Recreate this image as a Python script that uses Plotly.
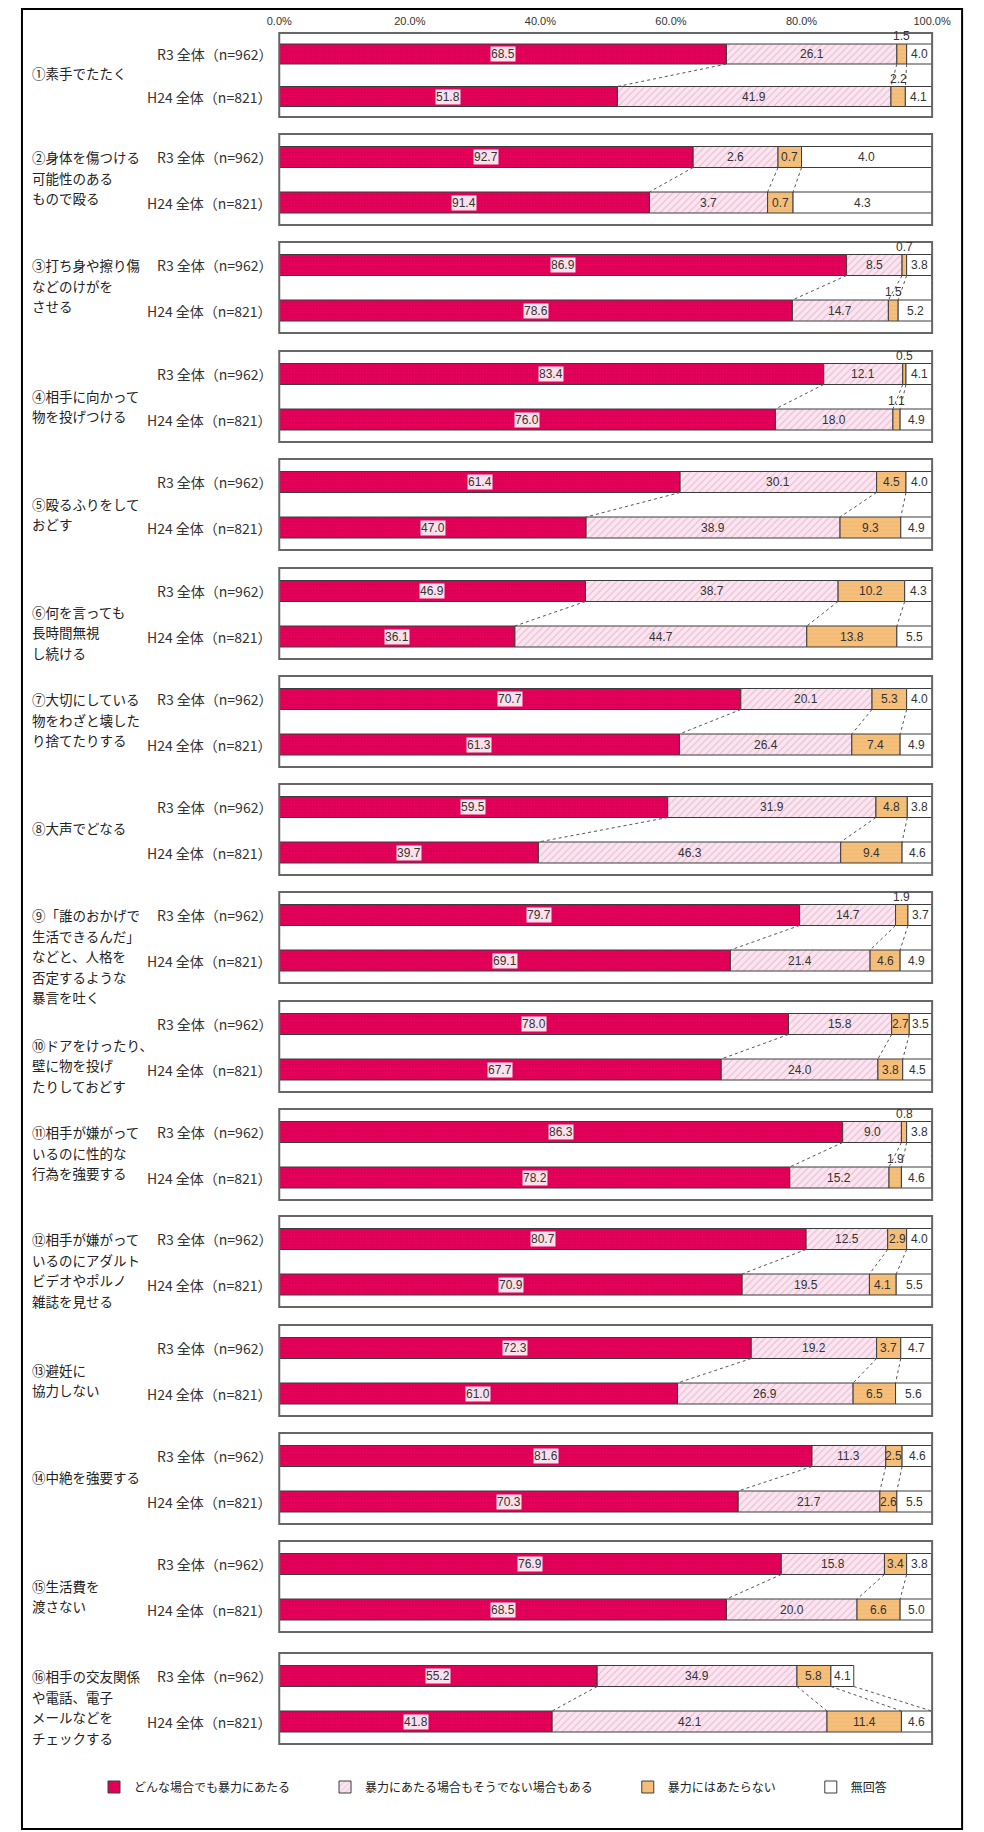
import plotly.graph_objects as go

PAGE_W, PAGE_H = 984, 1832
OFF = 8                      # the browser puts the figure 8px in from the page corner
W, H = PAGE_W - OFF, PAGE_H - OFF
TOP = 20                     # top margin of the plotting area (figure px)

JP = "Noto Sans CJK JP"
NUM = "Liberation Sans, Arial, sans-serif"

PINK = "#E5005A"
HATCH_BG = "#FBE4EF"
HATCH_FG = "#C58AAA"
TAN = "#F6C07C"
EDGE = "#3c3c3c"

# ---- data -------------------------------------------------------------
CATEGORIES = [
    "①素手でたたく",
    "②身体を傷つける\n可能性のある\nもので殴る",
    "③打ち身や擦り傷\nなどのけがを\nさせる",
    "④相手に向かって\n物を投げつける",
    "⑤殴るふりをして\nおどす",
    "⑥何を言っても\n長時間無視\nし続ける",
    "⑦大切にしている\n物をわざと壊した\nり捨てたりする",
    "⑧大声でどなる",
    "⑨「誰のおかげで\n生活できるんだ」\nなどと、人格を\n否定するような\n暴言を吐く",
    "⑩ドアをけったり、\n壁に物を投げ\nたりしておどす",
    "⑪相手が嫌がって\nいるのに性的な\n行為を強要する",
    "⑫相手が嫌がって\nいるのにアダルト\nビデオやポルノ\n雑誌を見せる",
    "⑬避妊に\n協力しない",
    "⑭中絶を強要する",
    "⑮生活費を\n渡さない",
    "⑯相手の交友関係\nや電話、電子\nメールなどを\nチェックする",
]
SERIES = ["R3 全体（n=962）", "H24 全体（n=821）"]
RESPONSES = ["どんな場合でも暴力にあたる", "暴力にあたる場合もそうでない場合もある",
             "暴力にはあたらない", "無回答"]

R3_ALWAYS = [68.5, 92.7, 86.9, 83.4, 61.4, 46.9, 70.7, 59.5, 79.7, 78.0, 86.3, 80.7, 72.3, 81.6, 76.9, 55.2]
R3_SOMETIMES = [26.1, 2.6, 8.5, 12.1, 30.1, 38.7, 20.1, 31.9, 14.7, 15.8, 9.0, 12.5, 19.2, 11.3, 15.8, 34.9]
R3_NOT = [1.5, 0.7, 0.7, 0.5, 4.5, 10.2, 5.3, 4.8, 1.9, 2.7, 0.8, 2.9, 3.7, 2.5, 3.4, 5.8]
R3_NA = [4.0, 4.0, 3.8, 4.1, 4.0, 4.3, 4.0, 3.8, 3.7, 3.5, 3.8, 4.0, 4.7, 4.6, 3.8, 4.1]

H24_ALWAYS = [51.8, 91.4, 78.6, 76.0, 47.0, 36.1, 61.3, 39.7, 69.1, 67.7, 78.2, 70.9, 61.0, 70.3, 68.5, 41.8]
H24_SOMETIMES = [41.9, 3.7, 14.7, 18.0, 38.9, 44.7, 26.4, 46.3, 21.4, 24.0, 15.2, 19.5, 26.9, 21.7, 20.0, 42.1]
H24_NOT = [2.2, 0.7, 1.5, 1.1, 9.3, 13.8, 7.4, 9.4, 4.6, 3.8, 1.9, 4.1, 6.5, 2.6, 6.6, 11.4]
H24_NA = [4.1, 4.3, 5.2, 4.9, 4.9, 5.5, 4.9, 4.6, 4.9, 4.5, 4.6, 5.5, 5.6, 5.5, 5.0, 4.6]

# bar lengths as drawn in the original where they differ from the printed labels
Q2_R3_DRAWN = [63.4, 13.0, 3.6, 20.0]
Q2_H24_DRAWN = [56.7, 18.1, 3.9, 21.3]
Q16_R3_DRAWN = [48.7, 30.6, 5.2, 3.5]

# ---- layout helpers (page pixel coordinates) --------------------------
GROUP_TOPS = [33, 134, 242, 351, 459, 568, 676, 784, 892, 1001, 1109, 1216, 1325, 1433, 1541, 1653]
LABEL_LINE_SHIFT = {5: 1, 9: 1}   # these labels start one line lower
LINE_H = 20.5
AXIS_X0, AXIS_X1 = 275, 950


def px_x(px):
    return (px - OFF) / W


def px_y(py):
    return (PAGE_H - py) / (H - TOP)


def row_center(g, s):
    top = GROUP_TOPS[g]
    if g == 0:
        return top + (21 if s == 0 else 63.5)
    return top + (23 if s == 0 else 68.5)


def frame_height(g):
    return 84 if g == 0 else 91


def thickness(g):
    return 20 if g == 0 else 21


r3 = list(zip(R3_ALWAYS, R3_SOMETIMES, R3_NOT, R3_NA))
h24 = list(zip(H24_ALWAYS, H24_SOMETIMES, H24_NOT, H24_NA))
drawn_override = {(1, 0): Q2_R3_DRAWN, (1, 1): Q2_H24_DRAWN, (15, 0): Q16_R3_DRAWN}

rows = []
for g in range(len(CATEGORIES)):
    for s, vals in enumerate([r3[g], h24[g]]):
        drawn = drawn_override.get((g, s), list(vals))
        cum = [0]
        for w in drawn:
            cum.append(cum[-1] + w)
        rows.append(dict(g=g, s=s, labels=vals, drawn=drawn, cum=cum,
                         y=row_center(g, s), t=thickness(g)))

fig = go.Figure()

markers = [
    dict(color=PINK, line=dict(color=EDGE, width=1),
         pattern=dict(shape=".", fgcolor="#B8003F", bgcolor=PINK, size=3, solidity=0.25)),
    dict(color=HATCH_BG, line=dict(color=EDGE, width=1),
         pattern=dict(shape="/", fgcolor=HATCH_FG, bgcolor=HATCH_BG, size=5, solidity=0.18)),
    dict(color=TAN, line=dict(color=EDGE, width=1),
         pattern=dict(shape="-", fgcolor="#E7A75E", bgcolor=TAN, size=4, solidity=0.2)),
    dict(color="white", line=dict(color=EDGE, width=1)),
]
legend_pad = "\u3000\u3000\u2002"

for k in range(4):
    fig.add_trace(go.Bar(
        x=[r["drawn"][k] for r in rows],
        y=[r["y"] for r in rows],
        base=[r["cum"][k] for r in rows],
        width=[r["t"] for r in rows],
        orientation="h",
        name=RESPONSES[k] + (legend_pad if k < 3 else ""),
        marker=markers[k],
        hoverinfo="skip",
    ))

# connector lines between R3 and H24 bars
cx, cy = [], []
for g in range(len(CATEGORIES)):
    a, b = rows[2 * g], rows[2 * g + 1]
    for k in range(1, 5):
        cx += [a["cum"][k], b["cum"][k], None]
        cy += [a["y"] + a["t"] / 2, b["y"] - b["t"] / 2, None]
fig.add_trace(go.Scatter(x=cx, y=cy, mode="lines", showlegend=False, hoverinfo="skip",
                         line=dict(color="#555555", width=1, dash="dot")))

ann = []
shapes = []

# value labels
for r in rows:
    for k in range(4):
        w = r["drawn"][k]
        xc = r["cum"][k] + w / 2
        txt = f"{r['labels'][k]:.1f}"
        if k == 2 and w < 2.4:
            ann.append(dict(x=xc, y=r["y"] - r["t"] / 2 + 1, xref="x", yref="y", text=txt,
                            showarrow=False, yanchor="bottom",
                            font=dict(family=NUM, size=12, color="#333")))
        elif k == 0:
            ann.append(dict(x=xc, y=r["y"], xref="x", yref="y", text=txt, showarrow=False,
                            bgcolor="rgba(255,255,255,0.88)", borderpad=0,
                            font=dict(family=NUM, size=12, color="#333")))
        else:
            ann.append(dict(x=xc, y=r["y"], xref="x", yref="y", text=txt, showarrow=False,
                            font=dict(family=NUM, size=12, color="#333")))

# row labels
for r in rows:
    ann.append(dict(x=px_x(270), y=r["y"], xref="paper", yref="y", text=SERIES[r["s"]],
                    showarrow=False, xanchor="right",
                    font=dict(family=JP, size=14, color="#333")))

# category labels
for g, text in enumerate(CATEGORIES):
    lines = text.split("\n")
    r3c, h24c = row_center(g, 0), row_center(g, 1)
    if len(lines) >= 3:
        first = r3c
    elif len(lines) == 2:
        first = (r3c + h24c) / 2 + 9 - LINE_H / 2
    else:
        first = (r3c + h24c) / 2 - 2
    first += LABEL_LINE_SHIFT.get(g, 0) * LINE_H
    for i, line in enumerate(lines):
        ann.append(dict(x=px_x(17), y=first + i * LINE_H, xref="paper", yref="y", text=line,
                        showarrow=False, xanchor="left",
                        font=dict(family=JP, size=13.5, color="#222")))

# group frames
for g in range(len(CATEGORIES)):
    top = GROUP_TOPS[g]
    shapes.append(dict(type="rect", xref="paper", yref="paper",
                       x0=px_x(AXIS_X0), x1=px_x(AXIS_X1),
                       y0=px_y(top), y1=px_y(top + frame_height(g)),
                       line=dict(color="#666666", width=2), layer="above"))

# outer border
shapes.append(dict(type="rect", xref="paper", yref="paper",
                   x0=px_x(9), x1=px_x(981), y0=px_y(9), y1=px_y(1829),
                   line=dict(color="black", width=2)))

fig.update_layout(
    width=W, height=H,
    margin=dict(l=0, r=0, t=TOP, b=0),
    paper_bgcolor="white", plot_bgcolor="white",
    barmode="overlay",
    font=dict(family=JP, color="#333"),
    annotations=ann,
    shapes=shapes,
    showlegend=True,
    legend=dict(orientation="h", x=0.5, xanchor="center", y=px_y(1787), yanchor="middle",
                font=dict(family=JP, size=12, color="#222"), bgcolor="rgba(0,0,0,0)"),
)
fig.update_xaxes(domain=[px_x(AXIS_X0), px_x(AXIS_X1)], range=[0, 100], side="top",
                 tickvals=[0, 20, 40, 60, 80, 100],
                 ticktext=["0.0%", "20.0%", "40.0%", "60.0%", "80.0%", "100.0%"],
                 showgrid=False, zeroline=False, showline=False, ticks="",
                 tickfont=dict(family=NUM, size=11, color="#333"), fixedrange=True)
fig.update_yaxes(range=[PAGE_H, OFF + TOP], visible=False, fixedrange=True)

fig.write_html("out.html")
